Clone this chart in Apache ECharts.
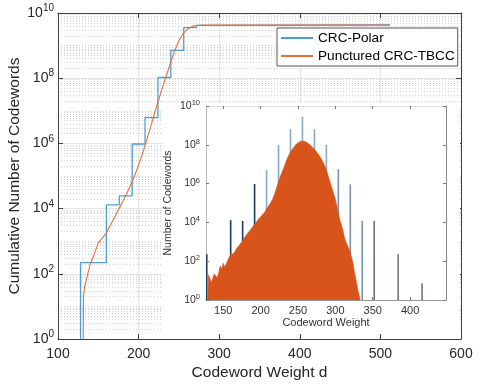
<!DOCTYPE html>
<html>
<head>
<meta charset="utf-8">
<script src="https://cdn.jsdelivr.net/npm/echarts@6/dist/echarts.min.js"></script>
<style>
  html, body { margin: 0; padding: 0; background: #fff; }
  #chart { width: 482px; height: 387px; }
</style>
</head>
<body>
<div id="chart"></div>
<script>
// CRC-Polar cumulative weight enumerator (main plot, stairs)
var polarCumWeight = [128, 128, 160, 176, 192, 208, 224, 240, 256, 272, 288, 512];
var polarCum = [1, 2.2e2, 1.3e4, 2.45e4, 9.6e5, 6.2e6, 1.05e8, 7.1e8, 3.55e9, 4.18e9, 4.28e9, 4.29e9];

// Punctured CRC-TBCC cumulative (main plot)
var tbccCumWeight = [131.3, 131.6, 133, 136, 140, 145, 150, 155, 160, 165, 170, 175, 180, 185, 190, 195, 200,
  205, 210, 215, 220, 225, 230, 235, 240, 245, 250, 255, 260, 265, 270, 280, 512];
var tbccCum = [1, 2.0e1, 4.0e1, 7.9e1, 2.0e2, 4.0e2, 8.9e2, 1.26e3, 1.78e3, 3.16e3, 5.2e3, 9.3e3, 1.58e4, 2.8e4,
  5.2e4, 1.0e5, 2.2e5, 5.0e5, 1.26e6, 3.2e6, 8.9e6, 2.2e7, 5.6e7, 1.32e8, 3.2e8, 7.1e8, 1.41e9, 2.3e9,
  3.1e9, 3.7e9, 4.1e9, 4.27e9, 4.27e9];

// CRC-Polar weight spectrum (inset spikes)
var polarWeight = [128, 160, 176, 192, 208, 224, 240, 256, 272, 288, 304, 320, 336, 352, 384, 416];
var polarCount = [2.3e2, 1.3e4, 1.2e4, 9.5e5, 5.0e6, 9.8e7, 6.3e8, 2.8e9, 6.3e8, 9.8e7, 5.5e6, 9.1e5, 1.2e4, 1.2e4, 2.3e2, 7];

// Punctured CRC-TBCC weight spectrum (inset area)
var tbccWeight = [129.5, 130, 132, 134, 136, 138, 140, 142, 144, 146, 148, 150, 152, 154, 156, 158, 160, 162, 164, 166,
  168, 170, 172, 174, 176, 178, 180, 182, 184, 186, 188, 190, 192, 194, 196, 198, 200, 202, 204, 206,
  208, 210, 212, 214, 216, 218, 220, 222, 224, 226, 228, 230, 232, 234, 236, 238, 240, 242, 244, 246,
  248, 250, 252, 254, 256, 258, 260, 262, 264, 266, 268, 270, 272, 274, 276, 278, 280, 282, 284, 286,
  288, 290, 292, 294, 296, 298, 300, 302, 304, 306, 308, 310, 312, 314, 316, 318, 320, 322, 324, 326,
  328, 330, 332, 333];
var tbccCount = [1, 20, 14, 8, 13, 22, 20, 14, 25, 56, 40, 79, 50, 71, 89, 158, 224, 200, 251, 316,
  447, 562, 708, 891, 1120, 1580, 2000, 2510, 2950, 3980, 5010, 6310, 7590, 1.0e4, 1.26e4, 1.58e4, 2.0e4, 2.34e4, 2.8e4, 3.5e4,
  5.0e4, 6.3e4, 8.3e4, 1.12e5, 1.58e5, 2.4e5, 4.0e5, 7.1e5, 1.26e6, 2.1e6, 3.3e6, 5.2e6, 8.3e6, 1.32e7, 2.1e7, 3.0e7, 4.2e7, 5.6e7, 7.2e7, 9.1e7,
  1.1e8, 1.29e8, 1.45e8, 1.55e8, 1.58e8, 1.55e8, 1.45e8, 1.32e8, 1.17e8, 1.0e8, 8.5e7, 7.1e7, 5.9e7, 4.8e7, 3.8e7, 3.0e7, 2.2e7, 1.66e7, 1.2e7, 7.9e6,
  5.0e6, 2.8e6, 1.58e6, 8.9e5, 5.0e5, 2.8e5, 1.58e5, 7.1e4, 2.8e4, 1.32e4, 7.6e3, 4.0e3, 1.78e3, 1.0e3, 708, 447, 282, 141, 63, 22,
  8.9, 3.5, 1.6, 1];

var xTicksMain = [100, 600, 100];   // min, max, step
var insetRange = [127, 448];
var insetTicks = [150, 200, 250, 300, 350, 400];

function pairs(xs, ys) {
  return xs.map(function (x, i) { return [x, ys[i]]; });
}

var font = "'Liberation Sans', Arial, sans-serif";
var axisColor = '#404040';

function powLabel(v) {
  var e = Math.round(Math.log10(v));
  return '{b|10}{s|' + e + '}';
}

// dotted minor grid, like matlab's minor grid on a log axis
var minorLines = [];
for (var n = 0; n < 10; n++) {
  if (n % 2 === 1) minorLines.push({ yAxis: Math.pow(10, n) });
  for (var k = 2; k <= 9; k++) minorLines.push({ yAxis: k * Math.pow(10, n) });
}

function spikeColor(w) {
  if (w <= 192) return '#1f3b5c';
  if (w <= 288) return '#86aac5';
  if (w <= 336) return '#7893aa';
  return '#6b737b';
}

var chart = echarts.init(document.getElementById('chart'), null, { renderer: 'canvas' });

var option = {
  animation: false,
  backgroundColor: '#fff',
  textStyle: { fontFamily: font },
  grid: [
    { left: 58, top: 13, right: 21, bottom: 48, outerBoundsMode: 'none' },
    { left: 206, top: 106, width: 240, height: 194, outerBoundsMode: 'none' }
  ],
  graphic: [{
    type: 'rect',
    z: 1,
    shape: { x: 163, y: 103, width: 297, height: 231 },
    style: { fill: '#fff' }
  }],
  legend: {
    left: 277,
    top: 28,
    z: 10,
    orient: 'vertical',
    backgroundColor: '#fff',
    borderColor: '#555',
    borderWidth: 1,
    borderRadius: 0,
    padding: [2, 3, 2, 4],
    itemGap: 2,
    itemWidth: 32,
    itemHeight: 2,
    icon: 'rect',
    textStyle: { fontSize: 13.6, color: '#000', fontFamily: font, lineHeight: 16 },
    data: ['CRC-Polar', 'Punctured CRC-TBCC']
  },
  xAxis: [{
    gridIndex: 0,
    type: 'value',
    min: xTicksMain[0], max: xTicksMain[1], interval: xTicksMain[2],
    name: 'Codeword Weight d',
    nameLocation: 'middle',
    nameGap: 26,
    nameMoveOverlap: false,
    nameTextStyle: { fontSize: 15.5, color: '#262626' },
    axisLine: { lineStyle: { color: axisColor } },
    axisTick: { inside: true, length: 5, lineStyle: { color: axisColor } },
    axisLabel: { fontSize: 14, color: '#262626', margin: 8 },
    splitLine: { show: true, lineStyle: { color: '#e4e4e4' } }
  }, {
    gridIndex: 0,
    type: 'value',
    position: 'top',
    min: xTicksMain[0], max: xTicksMain[1], interval: xTicksMain[2],
    axisLine: { lineStyle: { color: axisColor } },
    axisTick: { inside: true, length: 5, lineStyle: { color: axisColor } },
    axisLabel: { show: false },
    splitLine: { show: false }
  }, {
    gridIndex: 1,
    type: 'value',
    z: 5,
    min: insetRange[0], max: insetRange[1],
    name: 'Codeword Weight',
    nameLocation: 'middle',
    nameGap: 17,
    nameMoveOverlap: false,
    nameTextStyle: { fontSize: 11, color: '#333' },
    axisLine: { lineStyle: { color: '#999' } },
    axisTick: { inside: true, length: 3, lineStyle: { color: '#777' }, customValues: insetTicks },
    axisLabel: { fontSize: 11, color: '#333', margin: 5, customValues: insetTicks },
    splitLine: { show: false }
  }, {
    gridIndex: 1,
    type: 'value',
    z: 5,
    position: 'top',
    min: insetRange[0], max: insetRange[1],
    axisLine: { lineStyle: { color: '#ddd' } },
    axisTick: { inside: true, length: 3, lineStyle: { color: '#777' }, customValues: insetTicks },
    axisLabel: { show: false },
    splitLine: { show: false }
  }],
  yAxis: [{
    gridIndex: 0,
    type: 'log',
    logBase: 10,
    min: 1, max: 1e10, interval: 2,
    name: 'Cumulative Number of Codewords',
    nameLocation: 'middle',
    nameGap: 35,
    nameMoveOverlap: false,
    nameTextStyle: { fontSize: 15.5, color: '#262626' },
    axisLine: { lineStyle: { color: axisColor } },
    axisTick: { inside: true, length: 5, lineStyle: { color: axisColor } },
    axisLabel: {
      margin: 4,
      formatter: powLabel,
      rich: {
        b: { fontSize: 14, color: '#262626', fontFamily: font },
        s: { fontSize: 10, color: '#262626', fontFamily: font, padding: [0, 0, 9, 0] }
      }
    },
    splitLine: { show: true, lineStyle: { color: '#e4e4e4' } }
  }, {
    gridIndex: 0,
    type: 'log',
    logBase: 10,
    position: 'right',
    min: 1, max: 1e10, interval: 2,
    axisLine: { lineStyle: { color: axisColor } },
    axisTick: { inside: true, length: 5, lineStyle: { color: axisColor } },
    axisLabel: { show: false },
    splitLine: { show: false }
  }, {
    gridIndex: 1,
    type: 'log',
    logBase: 10,
    z: 5,
    min: 1, max: 1e10, interval: 2,
    name: 'Number of Codewords',
    nameLocation: 'middle',
    nameGap: 32,
    nameMoveOverlap: false,
    nameTextStyle: { fontSize: 10.5, color: '#333' },
    axisLine: { lineStyle: { color: '#bbb' } },
    axisTick: { inside: true, length: 3, lineStyle: { color: '#777' } },
    axisLabel: {
      margin: 6,
      formatter: powLabel,
      rich: {
        b: { fontSize: 10.5, color: '#333', fontFamily: font },
        s: { fontSize: 7.5, color: '#333', fontFamily: font, padding: [0, 0, 6, 0] }
      }
    },
    splitLine: { show: false }
  }, {
    gridIndex: 1,
    type: 'log',
    logBase: 10,
    z: 5,
    position: 'right',
    min: 1, max: 1e10, interval: 2,
    axisLine: { lineStyle: { color: '#888' } },
    axisTick: { inside: true, length: 3, lineStyle: { color: '#777' } },
    axisLabel: { show: false },
    splitLine: { show: false }
  }],
  series: [{
    name: 'minor grid',
    type: 'line',
    xAxisIndex: 0,
    yAxisIndex: 0,
    z: 0,
    data: [],
    silent: true,
    markLine: {
      z: 0,
      silent: true,
      symbol: ['none', 'none'],
      label: { show: false },
      lineStyle: { color: '#d2d2d2', width: 1, type: [1, 2] },
      emphasis: { disabled: true },
      data: minorLines
    }
  }, {
    name: 'CRC-Polar',
    type: 'line',
    xAxisIndex: 0,
    yAxisIndex: 0,
    step: 'end',
    showSymbol: false,
    color: '#4d9fd6',
    lineStyle: { width: 1.3, color: '#4d9fd6' },
    data: pairs(polarCumWeight, polarCum)
  }, {
    name: 'Punctured CRC-TBCC',
    type: 'line',
    xAxisIndex: 0,
    yAxisIndex: 0,
    showSymbol: false,
    color: '#e4703a',
    lineStyle: { width: 1.1, color: '#e4703a' },
    data: pairs(tbccCumWeight, tbccCum)
  }, {
    name: 'polar spectrum',
    type: 'bar',
    xAxisIndex: 2,
    yAxisIndex: 2,
    z: 5,
    barWidth: 1.6,
    itemStyle: {
      color: function (p) { return spikeColor(p.value[0]); }
    },
    data: pairs(polarWeight, polarCount)
  }, {
    name: 'tbcc spectrum',
    type: 'line',
    xAxisIndex: 2,
    yAxisIndex: 2,
    z: 6,
    showSymbol: false,
    lineStyle: { width: 0.6, color: '#d9541a' },
    areaStyle: { color: '#d9541a', opacity: 1, origin: 'start' },
    data: pairs(tbccWeight, tbccCount)
  }]
};

chart.setOption(option);
</script>
</body>
</html>
